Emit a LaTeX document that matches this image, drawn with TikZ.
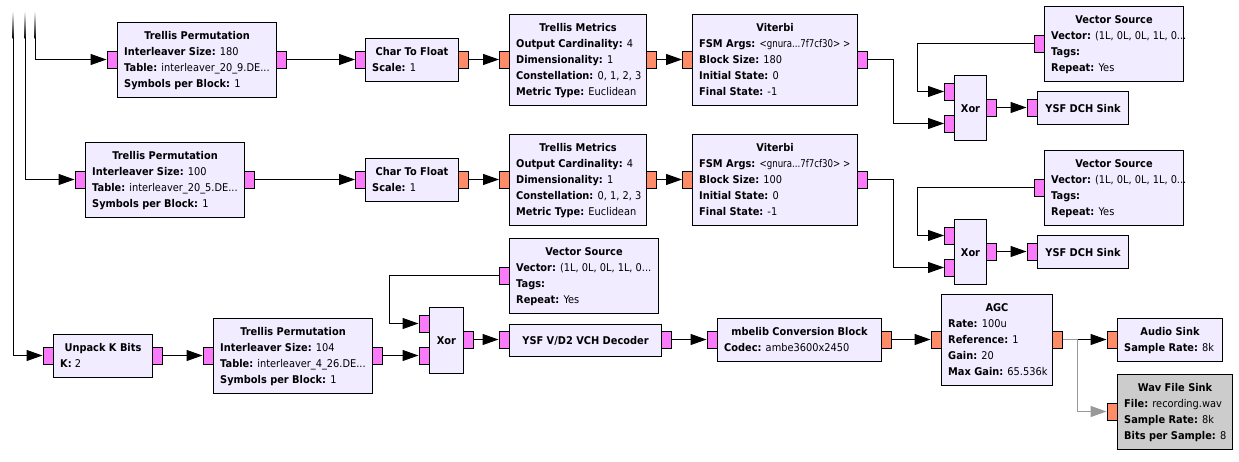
\documentclass[tikz,border=0pt]{standalone}
\usepackage{fontspec}
\setmainfont{DejaVu Sans}[FakeStretch=0.92]
\usetikzlibrary{arrows.meta}
\definecolor{blkfill}{HTML}{F1ECFF}
\definecolor{bport}{HTML}{F97BF9}
\definecolor{fport}{HTML}{FF8C69}
\definecolor{disfill}{HTML}{CCCCCC}
\definecolor{disline}{HTML}{999999}
\tikzset{
  gbox/.style={draw, line width=1pt, inner sep=0pt, anchor=north west},
  gport/.style={draw, line width=1pt, inner sep=0pt, minimum width=10pt, minimum height=17pt},
  conn/.style={line width=1pt, -{Triangle[length=16pt,width=11pt]}},
  disconn/.style={conn, draw=disline},
  gtitle/.style={anchor=base, font=\bfseries, inner sep=0pt},
  gprop/.style={anchor=base west, inner sep=0pt},
}
% block: name, x1, y1, x2, y2, fill
\newcommand\gblk[6]{\node[gbox, fill=#6, minimum width={#4-#2}, minimum height={#5-#3}] (#1) at (#2,#3) {};}
\newcommand\gttl[2]{\node[gtitle] (#1-t) at ([yshift=-17pt]#1.north) {#2};}
\newcommand\gctr[2]{\node[gtitle] (#1-t) at ([yshift=-4pt]#1.center) {#2};}
\newcommand\gprp[4]{\node[gprop] (#1-p#2) at ([xshift=7pt, yshift={-(17+16*#2)*1pt}]#1.north west) {\textbf{#3:} #4};}
\newcommand\gprt[4]{\node[gport, fill=#4] (#1) at (#2,#3) {};}
\begin{document}
\begin{tikzpicture}[x=1pt,y=-1pt]
\useasboundingbox (0,0) rectangle (1239,461);
\fill[white] (0,0) rectangle (1239,461);
\fontsize{10.67}{13}\selectfont

% ---------- Row 1 ----------
\gblk{tpa}{117}{22}{276}{97}{blkfill}
\gttl{tpa}{Trellis Permutation}
\gprp{tpa}{1}{Interleaver Size}{180}
\gprp{tpa}{2}{Table}{interleaver\_20\_9.DE...}
\gprp{tpa}{3}{Symbols per Block}{1}

\gblk{cfa}{365}{38}{458}{81}{blkfill}
\gttl{cfa}{Char To Float}
\gprp{cfa}{1}{Scale}{1}

\gblk{tma}{509}{14}{646}{105}{blkfill}
\gttl{tma}{Trellis Metrics}
\gprp{tma}{1}{Output Cardinality}{4}
\gprp{tma}{2}{Dimensionality}{1}
\gprp{tma}{3}{Constellation}{0, 1, 2, 3}
\gprp{tma}{4}{Metric Type}{Euclidean}

\gblk{via}{692}{14}{857}{105}{blkfill}
\gttl{via}{Viterbi}
\gprp{via}{1}{FSM Args}{\scalebox{0.88}[1]{<gnura...7f7cf30> >}}
\gprp{via}{2}{Block Size}{180}
\gprp{via}{3}{Initial State}{0}
\gprp{via}{4}{Final State}{-1}

\gblk{vsa}{1044}{6}{1183}{81}{blkfill}
\gttl{vsa}{Vector Source}
\gprp{vsa}{1}{Vector}{(1L, 0L, 0L, 1L, 0...}
\gprp{vsa}{2}{Tags}{}
\gprp{vsa}{3}{Repeat}{Yes}

\gblk{xoa}{954}{75}{986}{140}{blkfill}
\gctr{xoa}{Xor}
\gblk{dca}{1037}{91}{1128}{124}{blkfill}
\gctr{dca}{YSF DCH Sink}

% ---------- Row 2 ----------
\gblk{tpb}{85}{142}{244}{217}{blkfill}
\gttl{tpb}{Trellis Permutation}
\gprp{tpb}{1}{Interleaver Size}{100}
\gprp{tpb}{2}{Table}{interleaver\_20\_5.DE...}
\gprp{tpb}{3}{Symbols per Block}{1}

\gblk{cfb}{365}{158}{458}{201}{blkfill}
\gttl{cfb}{Char To Float}
\gprp{cfb}{1}{Scale}{1}

\gblk{tmb}{509}{134}{646}{225}{blkfill}
\gttl{tmb}{Trellis Metrics}
\gprp{tmb}{1}{Output Cardinality}{4}
\gprp{tmb}{2}{Dimensionality}{1}
\gprp{tmb}{3}{Constellation}{0, 1, 2, 3}
\gprp{tmb}{4}{Metric Type}{Euclidean}

\gblk{vib}{692}{134}{857}{225}{blkfill}
\gttl{vib}{Viterbi}
\gprp{vib}{1}{FSM Args}{\scalebox{0.88}[1]{<gnura...7f7cf30> >}}
\gprp{vib}{2}{Block Size}{100}
\gprp{vib}{3}{Initial State}{0}
\gprp{vib}{4}{Final State}{-1}

\gblk{vsb}{1044}{150}{1183}{225}{blkfill}
\gttl{vsb}{Vector Source}
\gprp{vsb}{1}{Vector}{(1L, 0L, 0L, 1L, 0...}
\gprp{vsb}{2}{Tags}{}
\gprp{vsb}{3}{Repeat}{Yes}

\gblk{xob}{954}{219}{986}{284}{blkfill}
\gctr{xob}{Xor}
\gblk{dcb}{1037}{235}{1128}{268}{blkfill}
\gctr{dcb}{YSF DCH Sink}

% ---------- Row 3 ----------
\gblk{unp}{53}{334}{152}{377}{blkfill}
\gttl{unp}{Unpack K Bits}
\gprp{unp}{1}{K}{2}

\gblk{tpc}{213}{318}{372}{393}{blkfill}
\gttl{tpc}{Trellis Permutation}
\gprp{tpc}{1}{Interleaver Size}{104}
\gprp{tpc}{2}{Table}{interleaver\_4\_26.DE...}
\gprp{tpc}{3}{Symbols per Block}{1}

\gblk{vsc}{509}{238}{658}{313}{blkfill}
\gttl{vsc}{Vector Source}
\gprp{vsc}{1}{Vector}{(1L, 0L, 0L, 1L, 0...}
\gprp{vsc}{2}{Tags}{}
\gprp{vsc}{3}{Repeat}{Yes}

\gblk{xoc}{429}{307}{463}{373}{blkfill}
\gctr{xoc}{Xor}

\gblk{vch}{509}{324}{661}{356}{blkfill}
\gctr{vch}{YSF V/D2 VCH Decoder}

\gblk{mbe}{717}{318}{881}{361}{blkfill}
\gttl{mbe}{mbelib Conversion Block}
\gprp{mbe}{1}{Codec}{ambe3600x2450}

\gblk{agc}{941}{294}{1052}{385}{blkfill}
\gttl{agc}{AGC}
\gprp{agc}{1}{Rate}{100u}
\gprp{agc}{2}{Reference}{1}
\gprp{agc}{3}{Gain}{20}
\gprp{agc}{4}{Max Gain}{65.536k}

\gblk{aud}{1117}{318}{1222}{361}{blkfill}
\gttl{aud}{Audio Sink}
\gprp{aud}{1}{Sample Rate}{8k}

\gblk{wav}{1117}{374}{1232}{449}{disfill}
\gttl{wav}{Wav File Sink}
\gprp{wav}{1}{File}{recording.wav}
\gprp{wav}{2}{Sample Rate}{8k}
\gprp{wav}{3}{Bits per Sample}{8}

% ---------- Ports ----------
\gprt{tpai}{112}{59.5}{bport} \gprt{tpao}{281}{59.5}{bport}
\gprt{cfai}{360.5}{59.5}{bport} \gprt{cfao}{463}{59.5}{fport}
\gprt{tmai}{504.5}{59.5}{fport} \gprt{tmao}{651}{59.5}{fport}
\gprt{viai}{687.5}{59.5}{fport} \gprt{viao}{862}{59.5}{bport}
\gprt{vsao}{1039}{43.5}{bport}
\gprt{xoai}{949.5}{91.5}{bport} \gprt{xoaj}{949.5}{123.5}{bport} \gprt{xoao}{991}{107.5}{bport}
\gprt{dcai}{1032}{107.5}{bport}

\gprt{tpbi}{80}{179.5}{bport} \gprt{tpbo}{249}{179.5}{bport}
\gprt{cfbi}{360.5}{179.5}{bport} \gprt{cfbo}{463}{179.5}{fport}
\gprt{tmbi}{504.5}{179.5}{fport} \gprt{tmbo}{651}{179.5}{fport}
\gprt{vibi}{687.5}{179.5}{fport} \gprt{vibo}{862}{179.5}{bport}
\gprt{vsbo}{1039}{187.5}{bport}
\gprt{xobi}{949.5}{235.5}{bport} \gprt{xobj}{949.5}{267.5}{bport} \gprt{xobo}{991}{251.5}{bport}
\gprt{dcbi}{1032}{251.5}{bport}

\gprt{unpi}{48}{355.5}{bport} \gprt{unpo}{157}{355.5}{bport}
\gprt{tpci}{208}{355.5}{bport} \gprt{tpco}{377}{355.5}{bport}
\gprt{vsco}{504}{275.5}{bport}
\gprt{xoci}{424}{323.5}{bport} \gprt{xocj}{424}{355.5}{bport} \gprt{xoco}{468}{339.5}{bport}
\gprt{vchi}{504}{339.5}{bport} \gprt{vcho}{666}{339.5}{bport}
\gprt{mbei}{712}{339.5}{bport} \gprt{mbeo}{886}{339.5}{fport}
\gprt{agci}{936}{339.5}{fport} \gprt{agco}{1057}{339.5}{fport}
\gprt{audi}{1112}{339.5}{fport}
\gprt{wavi}{1112}{411.5}{fport}

% ---------- Incoming lines from top ----------
\coordinate (srca) at (35,38);
\coordinate (srcb) at (25,38);
\coordinate (srcc) at (13,38);
\foreach \xx in {13,25,35} {\shade[top color=white, bottom color=black] (\xx-0.5,11) rectangle (\xx+0.5,38.3);}

% ---------- Connectors ----------
\draw[conn] (srca) |- (tpai.west);
\draw[conn] (srcb) |- (tpbi.west);
\draw[conn] (srcc) |- (unpi.west);

\draw[conn] (tpao.east) -- (cfai.west);
\draw[conn] (cfao.east) -- (tmai.west);
\draw[conn] (tmao.east) -- (viai.west);
\draw[conn] (viao.east) -- ++(26,0) |- (xoaj.west);
\draw[conn] (vsao.west) -- ++(-116,0) |- (xoai.west);
\draw[conn] (xoao.east) -- (dcai.west);

\draw[conn] (tpbo.east) -- (cfbi.west);
\draw[conn] (cfbo.east) -- (tmbi.west);
\draw[conn] (tmbo.east) -- (vibi.west);
\draw[conn] (vibo.east) -- ++(26,0) |- (xobj.west);
\draw[conn] (vsbo.west) -- ++(-116,0) |- (xobi.west);
\draw[conn] (xobo.east) -- (dcbi.west);

\draw[conn] (unpo.east) -- (tpci.west);
\draw[conn] (tpco.east) -- (xocj.west);
\draw[conn] (vsco.west) -- ++(-109,0) |- (xoci.west);
\draw[conn] (xoco.east) -- (vchi.west);
\draw[conn] (vcho.east) -- (mbei.west);
\draw[conn] (mbeo.east) -- (agci.west);
\draw[conn] (agco.east) -- (audi.west);
\draw[disconn] (agco.east) -- ++(15,0) |- (wavi.west);
\end{tikzpicture}
\end{document}
